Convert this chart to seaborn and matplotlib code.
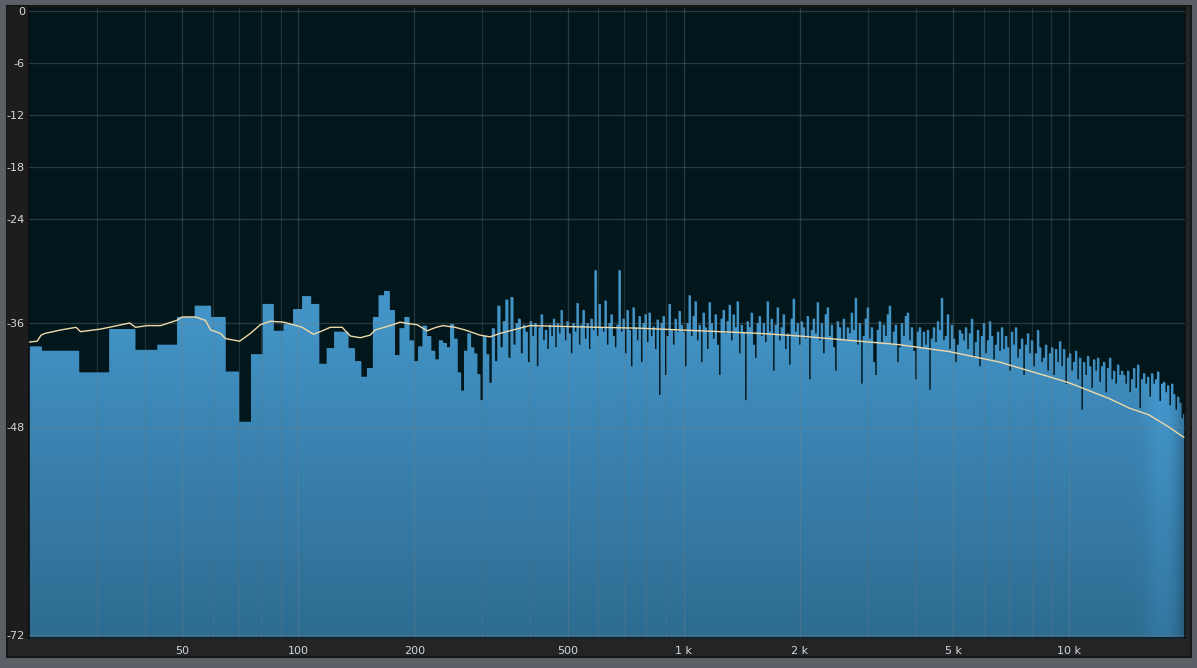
import numpy as np
import pandas as pd
import matplotlib
matplotlib.use("Agg")
import matplotlib.pyplot as plt
from matplotlib.patches import Rectangle
from matplotlib.ticker import FixedLocator, NullFormatter
import seaborn as sns

# --- data ---
BIN_HZ = 44100 / 8192          # FFT resolution (Hz per bin)
FIRST_BIN = 3

# one value per FFT bin, bins 3..89 (dB)
low_db = [-38.7, -39.2, -41.7, -36.7, -39.1, -38.5, -35.3, -34.0, -35.3, -41.6,
          -47.4, -39.6, -33.8, -36.9, -36.1, -34.4, -32.9, -33.8, -40.7, -38.9,
          -37.0, -37.0, -38.9, -40.4, -42.2, -41.2, -35.3, -32.8, -32.3, -34.5,
          -39.7, -36.6, -35.3, -38.0, -40.4, -38.7, -36.3, -37.5, -39.2, -40.2,
          -38.0, -38.3, -38.8, -36.1, -37.8, -41.7, -43.8, -39.2, -37.2, -38.8,
          -39.5, -41.9, -44.9, -37.5, -39.6, -42.9, -36.6, -40.4, -34.0, -38.8,
          -35.8, -33.3, -40.0,
          -33.0, -38.5, -36.0, -35.5, -39.5, -36.2, -37.0, -40.5, -35.8, -37.5,
          -36.0, -41.0, -36.5, -35.0, -38.0, -36.8, -39.0, -36.2, -37.5, -35.5,
          -38.8, -36.0, -37.2, -34.5]

# display columns above bin 90 (484 Hz .. 20 kHz), left to right (dB)
hi_db = [
    -36.5, -38.0, -35.8, -37.2, -39.5, -36.0, -37.0, -33.7, -38.5, -36.2,
    -34.5, -37.8, -36.0, -39.0, -35.5, -36.8, -29.9, -37.5, -33.8, -36.5,
    -37.0, -33.4, -38.5, -36.0, -35.0, -37.5, -38.8, -36.2, -29.9, -37.0,
    -35.5, -39.5, -34.5, -36.8, -41.0, -34.2, -36.5, -38.0, -35.2, -40.5,
    -36.0, -35.0, -38.2, -34.8, -37.5, -36.4, -39.0, -35.6, -44.3, -36.0,
    -35.2, -42.0, -37.5, -33.8, -36.8, -38.5, -35.5, -37.0, -34.6, -36.2,
    -37.0, -41.0, -36.0, -32.8, -37.5, -35.2, -33.5, -38.0, -36.2, -40.5,
    -34.8, -36.5, -39.0, -33.6, -36.0, -37.8, -35.0, -38.5, -42.0, -35.5,
    -34.5, -37.2, -35.8, -33.9, -38.0, -35.0, -36.5, -33.5, -39.5, -36.2,
    -37.0, -44.9, -35.8, -36.5, -34.8, -38.5, -40.0, -36.0, -35.2, -37.5,
    -36.0, -38.2, -33.5, -37.0, -35.5, -41.5, -36.2, -34.2, -38.0, -36.5,
    -35.0, -39.0, -37.2, -40.8, -35.5, -33.2, -37.0, -36.0, -38.5, -35.8,
    -36.5, -37.8, -35.2, -42.5, -36.8, -35.5, -37.2, -33.6, -38.0, -36.0,
    -39.5, -35.0, -34.2, -37.5, -36.2, -38.8, -41.5, -35.8, -36.5, -37.8,
    -35.5, -38.0, -36.5, -37.2, -34.8, -36.8, -33.1, -38.5, -36.0, -43.0,
    -37.5, -35.5, -34.2, -37.8, -36.5, -40.5, -42.0, -36.8, -35.8, -38.2,
    -36.2, -37.5, -35.0, -34.0, -38.5, -37.0, -36.2, -40.5, -38.8, -36.0,
    -37.5, -35.2, -34.8, -38.0, -36.5, -39.2, -42.5, -37.0, -36.5, -38.8,
    -37.0, -38.5, -36.8, -43.7, -37.8, -36.5, -38.2, -35.8, -36.8, -33.1,
    -38.0, -37.5, -35.0, -39.0, -36.2, -37.8, -40.5, -38.5, -36.8, -37.2,
    -38.0, -36.5, -39.0, -37.2, -35.5, -40.0, -38.2, -36.8, -41.0, -37.5,
    -36.0, -39.5, -38.0, -35.8, -37.5, -40.2, -38.5, -37.0, -39.2, -36.5,
    -39.0, -37.5, -38.8, -41.5, -37.0, -38.5, -36.5, -40.0, -39.0, -37.8,
    -42.0, -38.5, -37.2, -39.5, -38.0, -41.0, -39.5, -36.8, -38.8, -40.5,
    -40.0, -38.5, -41.5, -39.5, -38.8, -42.0, -39.0, -40.5, -38.1, -41.0,
    -39.0, -43.0, -40.0, -39.5, -41.5, -40.5, -39.2, -42.5, -40.0, -46.0,
    -40.5, -42.0, -39.8, -41.0, -43.5, -40.2, -41.5, -40.0, -42.8, -41.0,
    -40.5, -44.0, -41.2, -40.0, -42.5, -41.5, -43.0, -40.8, -42.0, -41.5,
    -42.0, -43.0, -41.5, -44.0, -42.5, -41.2, -43.5, -40.8, -45.8, -42.5,
    -41.8, -43.0, -42.2, -44.5, -41.8, -43.0, -42.5, -41.6, -45.0, -43.0,
    -42.8, -44.0, -43.2, -45.5, -43.0, -44.2, -46.0, -44.5, -45.2, -47.0,
    -46.5]

# smoothed average curve
avg_hz = [20.0, 21.0, 21.5, 22.0, 24.2, 26.5, 27.2, 30.7, 36.5, 37.8, 40.5,
          43.9, 48.3, 50.0, 54.1, 57.4, 59.2, 62.8, 64.7, 70.4, 75.1, 79.7,
          84.6, 91.4, 95.3, 102.4, 109.4, 114.0, 121.0, 130.0, 136.4, 144.7,
          153.6, 158.3, 173.1, 183.7, 195.1, 203.4, 215.9, 227.8, 237.5,
          255.1, 270.7, 296.1, 314.4, 333.7, 360.6, 399, 606, 769, 1100,
          1573, 1997, 2858, 3627, 4889, 6588, 8878, 10000, 11260, 12690,
          14300, 16120, 18160, 19860]
avg_db = [-38.2, -38.1, -37.4, -37.2, -36.8, -36.5, -37.0, -36.7, -36.0, -36.5,
          -36.3, -36.3, -35.7, -35.3, -35.3, -35.7, -36.8, -37.2, -37.8, -38.1,
          -37.2, -36.2, -35.8, -35.9, -36.1, -36.5, -37.3, -37.0, -36.5, -36.5,
          -37.5, -37.7, -37.4, -36.8, -36.3, -35.9, -36.1, -36.2, -36.9, -36.5,
          -36.3, -36.5, -36.8, -37.4, -37.6, -37.2, -36.8, -36.3, -36.5, -36.6,
          -36.9, -37.2, -37.5, -38.1, -38.5, -39.3, -40.5, -42.2, -42.9, -43.8,
          -44.7, -45.8, -46.6, -48.0, -49.2]

x_ticks = [50, 100, 200, 500, 1000, 2000, 5000, 10000]
x_labels = ["50", "100", "200", "500", "1 k", "2 k", "5 k", "10 k"]
x_minor = [30, 40, 60, 70, 80, 90, 300, 400, 600, 700, 800, 900,
           3000, 4000, 6000, 7000, 8000, 9000]
y_ticks = [0, -6, -12, -18, -24, -36, -48, -72]
y_labels = ["0", "-6", "-12", "-18", "-24", "-36", "-48", "-72"]

# --- build step outline ---
low_edges = BIN_HZ * np.arange(FIRST_BIN, FIRST_BIN + len(low_db) + 1)
hi_edges = np.geomspace(low_edges[-1], 20000, len(hi_db) + 1)
edges = np.concatenate([low_edges, hi_edges[1:]])
levels = np.array(low_db + hi_db + [hi_db[-1]])
spec = pd.DataFrame({"hz": edges, "db": levels})
avg = pd.DataFrame({"hz": avg_hz, "db": avg_db})

# --- style ---
sns.set_style("dark")
plt.rcParams["font.family"] = ["DejaVu Sans"]

BG = "#02171c"
W, H = 1197, 668
fig = plt.figure(figsize=(W / 100, H / 100), dpi=100, facecolor="#5b6067")

# dark frame panel around plot (behind the axes)
fig.patches.append(Rectangle((7 / W, 1 - 657 / H), (1191 - 7) / W, (657 - 6) / H,
                             transform=fig.transFigure, facecolor="#232425",
                             edgecolor="#151617", lw=1.5, zorder=-2))
fig.patches.append(Rectangle((7 / W, 1 - 638 / H), 22 / W, (638 - 7) / H,
                             transform=fig.transFigure, facecolor="#1d1d1e",
                             edgecolor="none", zorder=-1))

ax = fig.add_axes([29 / W, 1 - 638 / H, (1185 - 29) / W, (638 - 8) / H])
ax.set_facecolor(BG)
ax.set_xscale("log")
ax.set_xlim(20, 20000)
ax.set_ylim(-72.35, 0.35)

# spectrum
poly = ax.fill_between(spec["hz"], spec["db"], -80, step="post",
                       color="#3f8dbf", lw=0, zorder=1)

# vertical gradient inside the spectrum, slightly brighter near the right edge
ny, nx = 300, 600
fy = np.linspace(0, 1, ny)
stops = [0.0, 0.3, 0.5, 0.65, 1.0]
cols = np.array([[46, 108, 145], [58, 130, 176], [66, 147, 198],
                 [71, 155, 208], [74, 160, 214]]) / 255
grad = np.stack([np.interp(fy, stops, cols[:, c]) for c in range(3)], axis=-1)
px = 29 + np.linspace(0, 1, nx) * (1185 - 29)
glow = 1 + 0.10 * np.exp(-((px - 1163) / 16) ** 2) - 0.18 / (1 + np.exp(-(px - 1180) / 2.5))
img = np.clip(grad[:, None, :] * glow[None, :, None], 0, 1)
im = ax.imshow(img, origin="lower", extent=(0, 1, 0, 1), transform=ax.transAxes,
               aspect="auto", interpolation="bilinear", zorder=1.5)
im.set_clip_path(poly.get_paths()[0], ax.transData)

# average curve
sns.lineplot(data=avg, x="hz", y="db", ax=ax, color="#efd8a8", lw=1.0,
             zorder=3, sort=False)

# grid and ticks
ax.xaxis.set_major_locator(FixedLocator(x_ticks))
ax.set_xticklabels(x_labels)
ax.xaxis.set_minor_locator(FixedLocator(x_minor))
ax.xaxis.set_minor_formatter(NullFormatter())
ax.set_yticks(y_ticks)
ax.set_yticklabels(y_labels)
ax.set_axisbelow(False)
ax.grid(which="major", axis="both", color="#7a8488", alpha=0.33, lw=0.9, zorder=2)
ax.grid(which="minor", axis="x", color="#6c767a", alpha=0.28, lw=0.9, zorder=2)
ax.tick_params(which="both", length=0, colors="#d4d7da", labelsize=8)
ax.tick_params(axis="x", pad=6)
ax.tick_params(axis="y", pad=3)
ax.set_xlabel("")
ax.set_ylabel("")
for s in ax.spines.values():
    s.set_visible(True)
    s.set_color("#0c0f10")
    s.set_linewidth(1.2)

fig.savefig("out.png", dpi=100, facecolor=fig.get_facecolor())
